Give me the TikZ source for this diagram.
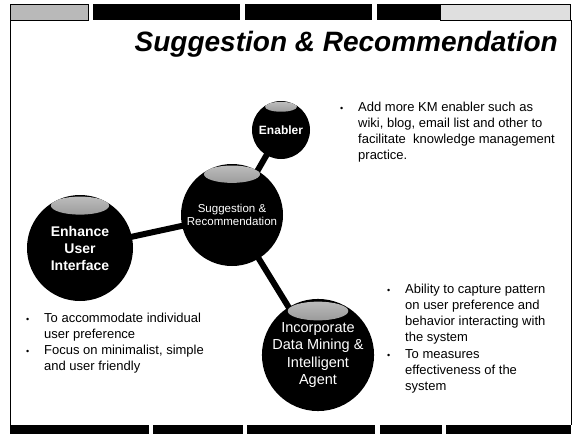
\documentclass[tikz,border=0pt]{standalone}
\usepackage{fontspec}
\setmainfont{Liberation Sans}
\usetikzlibrary{backgrounds}
\newcommand{\blt}{\makebox[18pt][l]{\small\textbullet}}
\tikzset{
  sphere/.style={circle,fill=black,text=white,align=center,inner sep=0pt,
                 minimum size=2*#1,
                 path picture={\shade[top color=gray!50,bottom color=black]
                   ([yshift=0.8*#1*1pt]path picture bounding box.center)
                   ellipse [x radius=0.55*#1,y radius=0.17*#1];}},
  note/.style={anchor=base west,inner sep=0pt,font=\fontsize{13}{16.3}\selectfont},
  link/.style={line width=6pt,black},
  stripe/.style={fill=black},
  texbar/.style={draw=black,line width=1pt}
}

\begin{document}
\begin{tikzpicture}[x=1pt,y=-1pt]
  \useasboundingbox (0,0) rectangle (573,434);
  % header and footer strips
  \draw[texbar,fill=gray!55] (10,4) rectangle (88,20);
  \foreach \a/\b in {93/240,245/372,377/440} \fill[stripe] (\a,4) rectangle (\b,20);
  \draw[texbar,fill=gray!25] (440,4) rectangle (570,20);
  \foreach \a/\b in {10/149,153/243,247/375,380/442,446/571} \fill[stripe] (\a,425) rectangle (\b,434);
  \draw (10,20) -- (10,425) (571,20) -- (571,425);
  % title
  \node[anchor=base east,inner sep=0pt,font=\fontsize{28}{32}\selectfont\bfseries\itshape] (title) at (558,51) {Suggestion \& Recommendation};
  % spheres
  \node[sphere=51,font=\fontsize{11.5}{13.5}\selectfont] (s) at (232,215) {Suggestion \&\\Recommendation};
  \node[sphere=29,font=\fontsize{12}{14}\selectfont\bfseries] (en) at (281,130) {Enabler};
  \node[sphere=53,font=\fontsize{14}{17}\selectfont\bfseries] (ui) at (80,248) {Enhance\\User\\Interface};
  \node[sphere=55,font=\fontsize{14.5}{17.5}\selectfont] (dm) at (318,355) {Incorporate\\Data Mining \&\\Intelligent\\Agent};
  \begin{scope}[on background layer]
    \draw[link] (s.center)--(en.center); \draw[link] (s.center)--(ui.center); \draw[link] (s.center)--(dm.center);
  \end{scope}
  % notes
  \node[note] (nen) at (340,111) {\begin{tabular}[t]{@{}l@{}l@{}}
    \blt & Add more KM enabler such as\\
         & wiki, blog, email list and other to\\
         & facilitate\ \ knowledge management\\
         & practice.
  \end{tabular}};
  \node[note] (nui) at (26,322) {\begin{tabular}[t]{@{}l@{}l@{}}
    \blt & To accommodate individual\\
         & user preference\\
    \blt & Focus on minimalist, simple\\
         & and user friendly
  \end{tabular}};
  \node[note] (ndm) at (387,293) {\begin{tabular}[t]{@{}l@{}l@{}}
    \blt & Ability to capture pattern\\
         & on user preference and\\
         & behavior interacting with\\
         & the system\\
    \blt & To measures\\
         & effectiveness of the\\
         & system
  \end{tabular}};
\end{tikzpicture}
\end{document}
